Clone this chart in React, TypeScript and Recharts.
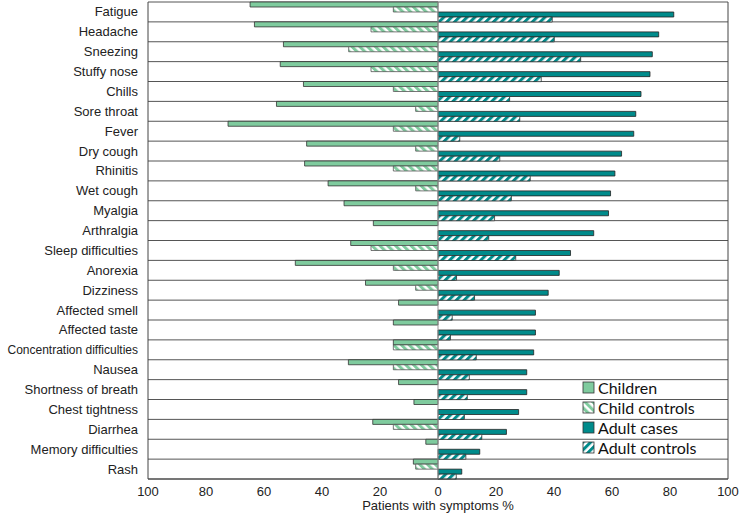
import {
  BarChart,
  Bar,
  XAxis,
  YAxis,
  CartesianGrid,
  ReferenceLine,
  Label,
} from "recharts";

const categories = [
  "Fatigue",
  "Headache",
  "Sneezing",
  "Stuffy nose",
  "Chills",
  "Sore throat",
  "Fever",
  "Dry cough",
  "Rhinitis",
  "Wet cough",
  "Myalgia",
  "Arthralgia",
  "Sleep difficulties",
  "Anorexia",
  "Dizziness",
  "Affected smell",
  "Affected taste",
  "Concentration difficulties",
  "Nausea",
  "Shortness of breath",
  "Chest tightness",
  "Diarrhea",
  "Memory difficulties",
  "Rash",
];

const children = [
  64.8, 63.3, 53.3, 54.4, 46.4, 55.7, 72.4, 45.3, 46, 37.9, 32.4, 22.3, 30.1, 49.2, 25,
  13.6, 15.4, 15.4, 30.9, 13.6, 8.3, 22.5, 4.2, 8.5,
];
const childControls = [
  15.4, 23.1, 30.8, 23.1, 15.4, 7.7, 15.4, 7.7, 15.4, 7.7, 0, 0, 23.1, 15.4, 7.7, 0, 0,
  15.4, 15.4, 0, 0, 15.4, 0, 7.7,
];
const adultCases = [
  81.3, 76.1, 73.9, 73.1, 70, 68.2, 67.5, 63.3, 61, 59.5, 58.8, 53.7, 45.7, 41.8, 38,
  33.6, 33.6, 33, 30.6, 30.6, 27.8, 23.6, 14.4, 8.2,
];
const adultControls = [
  39.4, 40.1, 49.2, 35.6, 24.7, 28.2, 7.5, 21.3, 31.8, 25.3, 19.5, 17.5, 26.8, 6.4, 12.6,
  4.9, 4.3, 13.2, 10.8, 10.1, 9.1, 15.1, 9.6, 6.3,
];

const xTicks = [-100, -80, -60, -40, -20, 0, 20, 40, 60, 80, 100];

const GREEN = "#7fcb9e";
const TEAL = "#008b8b";

const data = categories.map((name, i) => ({
  name,
  children: -children[i],
  childControls: -childControls[i],
  adultCases: adultCases[i],
  adultControls: adultControls[i],
}));

const legendItems = [
  { label: "Children", fill: GREEN },
  { label: "Child controls", fill: "url(#hatchGreen)" },
  { label: "Adult cases", fill: TEAL },
  { label: "Adult controls", fill: "url(#hatchTeal)" },
];

function LegendBox() {
  return (
    <div
      style={{
        position: "absolute",
        left: 582,
        top: 377,
        fontFamily: "Lato, sans-serif",
        fontSize: 16,
        color: "#111",
      }}
    >
      {legendItems.map((it) => (
        <div key={it.label} style={{ display: "flex", alignItems: "center", height: 20 }}>
          <svg width={13} height={13} style={{ marginRight: 3 }}>
            <rect x={1} y={1} width={11} height={11} fill={it.fill} stroke="#333" strokeWidth={0.8} />
          </svg>
          <span>{it.label}</span>
        </div>
      ))}
    </div>
  );
}

function CategoryTick({ x, y, payload }: any) {
  const label: string = payload.value;
  return (
    <text x={x} y={y} dy={4.5} textAnchor="end" fontSize={label.length > 22 ? 12 : 13} fill="#222">
      {label}
    </text>
  );
}

export default function App() {
  return (
    <div
      style={{
        position: "absolute",
        left: 0,
        top: 0,
        width: 740,
        height: 520,
        fontFamily: "'Liberation Sans', Arial, sans-serif",
      }}
    >
      <BarChart
        width={740}
        height={520}
        data={data}
        layout="vertical"
        barCategoryGap={0}
        barGap={0}
        margin={{ top: 2, right: 12, bottom: 0, left: 0 }}
      >
        <defs>
          <pattern id="hatchGreen" patternUnits="userSpaceOnUse" width={5.5} height={5.5} patternTransform="rotate(-45)">
            <rect width={5.5} height={5.5} fill="#fff" />
            <rect width={3} height={5.5} fill={GREEN} />
          </pattern>
          <pattern id="hatchTeal" patternUnits="userSpaceOnUse" width={5.5} height={5.5} patternTransform="rotate(45)">
            <rect width={5.5} height={5.5} fill="#fff" />
            <rect width={3} height={5.5} fill={TEAL} />
          </pattern>
        </defs>
        <CartesianGrid
          vertical={false}
          stroke="#555"
          horizontalCoordinatesGenerator={({ offset }: any) =>
            Array.from({ length: categories.length + 1 }, (_, i) => offset.top + (i * offset.height) / categories.length)
          }
        />
        <XAxis
          type="number"
          domain={[-100, 100]}
          ticks={xTicks}
          tickFormatter={(v: number) => String(Math.abs(v))}
          tick={{ fontSize: 13, fill: "#222" }}
          tickLine={false}
          axisLine={{ stroke: "#444" }}
          height={41}
        >
          <Label value="Patients with symptoms %" position="insideBottom" offset={10} style={{ fontSize: 13, fill: "#222" }} />
        </XAxis>
        <YAxis
          type="category"
          dataKey="name"
          width={148}
          tick={<CategoryTick />}
          tickLine={false}
          axisLine={{ stroke: "#444" }}
          interval={0}
          tickMargin={4}
        />
        <ReferenceLine x={0} stroke="#999" />
        <ReferenceLine x={100} stroke="#444" />
        <Bar dataKey="children" fill={GREEN} stroke="#333" strokeWidth={0.8} isAnimationActive={false} />
        <Bar dataKey="childControls" fill="url(#hatchGreen)" stroke="#555" strokeWidth={0.8} isAnimationActive={false} />
        <Bar dataKey="adultCases" fill={TEAL} stroke="#222" strokeWidth={0.8} isAnimationActive={false} />
        <Bar dataKey="adultControls" fill="url(#hatchTeal)" stroke="#333" strokeWidth={0.8} isAnimationActive={false} />
      </BarChart>
      <LegendBox />
    </div>
  );
}
